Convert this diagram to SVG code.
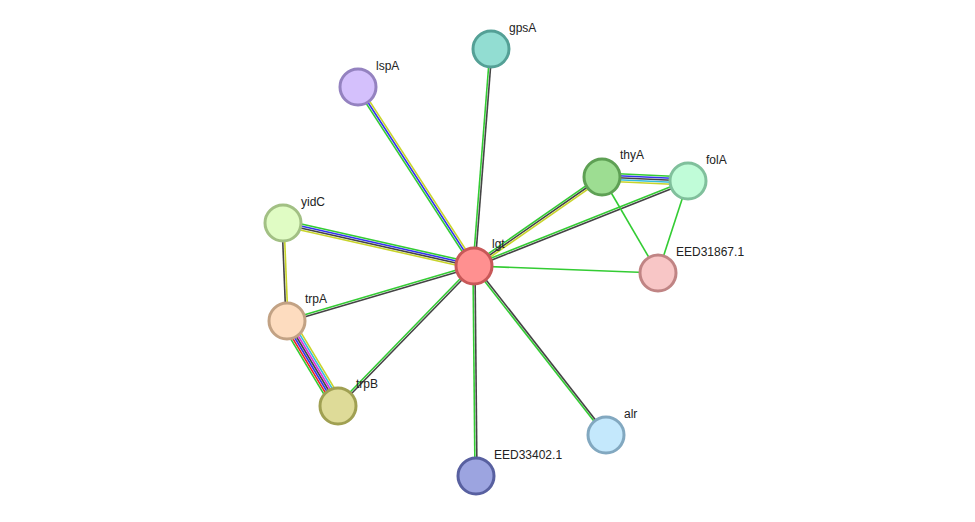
<svg xmlns="http://www.w3.org/2000/svg" width="975" height="522" viewBox="0 0 975 522">
<style>
line{stroke-width:1.6;fill:none}
.g{stroke:#33cc33}.k{stroke:#444}.b{stroke:#3333ee}.y{stroke:#c8d42a}.c{stroke:#33bbdd}.r{stroke:#ee2222}.m{stroke:#dd33dd}
circle{stroke-width:3}
text{font-family:"Liberation Sans",Arial,sans-serif;font-size:12px;fill:#222}
</style>
<rect width="975" height="522" fill="#fff"/>
<g id="connectors">
<line class="g" x1="473" y1="266" x2="490" y2="49"/><line class="k" x1="475" y1="266" x2="492" y2="49"/>
<line class="g" x1="472.3" y1="267.1" x2="356.3" y2="88.1"/><line class="b" x1="474" y1="266" x2="358" y2="87"/><line class="y" x1="475.7" y1="264.9" x2="359.7" y2="85.9"/>
<line class="g" x1="474.66" y1="263.07" x2="283.66" y2="220.07"/><line class="b" x1="474.22" y1="265.02" x2="283.22" y2="222.02"/><line class="k" x1="473.78" y1="266.98" x2="282.78" y2="223.98"/><line class="y" x1="473.34" y1="268.93" x2="282.34" y2="225.93"/>
<line class="g" x1="473.7" y1="265" x2="286.7" y2="320"/><line class="k" x1="474.3" y1="267" x2="287.3" y2="322"/>
<line class="g" x1="473.3" y1="265.3" x2="337.3" y2="405.3"/><line class="k" x1="474.7" y1="266.7" x2="338.7" y2="406.7"/>
<line class="g" x1="473" y1="266" x2="475" y2="476"/><line class="k" x1="475" y1="266" x2="477" y2="476"/>
<line class="g" x1="473.2" y1="266.6" x2="605.2" y2="435.6"/><line class="k" x1="474.8" y1="265.4" x2="606.8" y2="434.4"/>
<line class="g" x1="474" y1="266" x2="658" y2="273"/>
<line class="g" x1="472.9" y1="264.4" x2="600.9" y2="175.4"/><line class="k" x1="474" y1="266" x2="602" y2="177"/><line class="y" x1="475.1" y1="267.6" x2="603.1" y2="178.6"/>
<line class="g" x1="473.6" y1="265.1" x2="687.6" y2="180.1"/><line class="k" x1="474.4" y1="266.9" x2="688.4" y2="181.9"/>
<line class="g" x1="602" y1="173" x2="688" y2="177"/><line class="b" x1="602" y1="175" x2="688" y2="179"/><line class="k" x1="602" y1="177" x2="688" y2="181"/><line class="c" x1="602" y1="179" x2="688" y2="183"/><line class="y" x1="602" y1="181" x2="688" y2="185"/>
<line class="g" x1="602" y1="177" x2="658" y2="273"/><line class="g" x1="688" y1="181" x2="658" y2="273"/>
<line class="k" x1="282" y1="223" x2="286" y2="321"/><line class="y" x1="284" y1="223" x2="288" y2="321"/>
<line class="g" x1="281.85" y1="324.09" x2="332.85" y2="409.09"/><line class="r" x1="283.57" y1="323.06" x2="334.57" y2="408.06"/><line class="b" x1="285.28" y1="322.03" x2="336.28" y2="407.03"/><line class="k" x1="287" y1="321" x2="338" y2="406"/><line class="m" x1="288.72" y1="319.97" x2="339.72" y2="404.97"/><line class="c" x1="290.43" y1="318.94" x2="341.43" y2="403.94"/><line class="y" x1="292.15" y1="317.91" x2="343.15" y2="402.91"/>
</g>
<g id="lgt"><circle cx="474" cy="266" r="18" fill="#ff9090" stroke="#c85858"/><text x="492" y="248">lgt</text></g>
<g id="gpsA"><circle cx="491" cy="49" r="18" fill="#92ddd2" stroke="#54a096"/><text x="509" y="32">gpsA</text></g>
<g id="lspA"><circle cx="358" cy="87" r="18" fill="#d4c0fc" stroke="#9482c0"/><text x="376" y="70">lspA</text></g>
<g id="thyA"><circle cx="602" cy="177" r="18" fill="#9ddd92" stroke="#5ea054"/><text x="620" y="159">thyA</text></g>
<g id="folA"><circle cx="688" cy="181" r="18" fill="#c0fcd8" stroke="#80c09c"/><text x="706" y="164">folA</text></g>
<g id="EED31867.1"><circle cx="658" cy="273" r="18" fill="#f8c6c6" stroke="#c08484"/><text x="676" y="256">EED31867.1</text></g>
<g id="yidC"><circle cx="283" cy="223" r="18" fill="#e0fcc4" stroke="#a2c084"/><text x="301" y="206">yidC</text></g>
<g id="trpA"><circle cx="287" cy="321" r="18" fill="#fddcbf" stroke="#c2a284"/><text x="305" y="303">trpA</text></g>
<g id="trpB"><circle cx="338" cy="406" r="18" fill="#dedb98" stroke="#a0a052"/><text x="356" y="388">trpB</text></g>
<g id="alr"><circle cx="606" cy="435" r="18" fill="#c4e8fc" stroke="#82a8c0"/><text x="624" y="418">alr</text></g>
<g id="EED33402.1"><circle cx="476" cy="476" r="18" fill="#9ca4e0" stroke="#5860a0"/><text x="494" y="459">EED33402.1</text></g>
</svg>
